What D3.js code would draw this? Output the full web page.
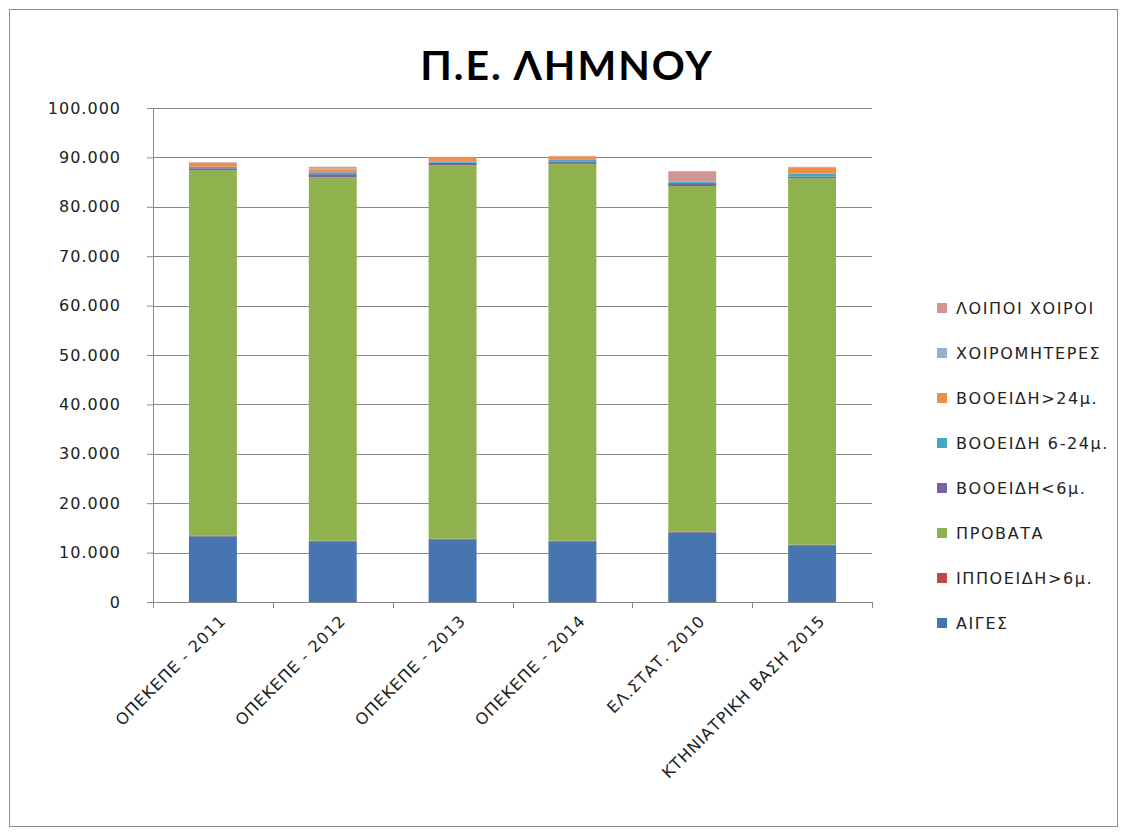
<!DOCTYPE html>
<html>
<head>
<meta charset="utf-8">
<script src="https://cdn.jsdelivr.net/npm/d3@7"></script>
<style>
  body { margin: 0; background: #fff; }
  svg { font-family: "DejaVu Sans", sans-serif; }
</style>
</head>
<body>
<div id="chart"></div>
<script>
// categories (x axis)
var categories = ["ΟΠΕΚΕΠΕ - 2011", "ΟΠΕΚΕΠΕ - 2012", "ΟΠΕΚΕΠΕ - 2013", "ΟΠΕΚΕΠΕ - 2014", "ΕΛ.ΣΤΑΤ. 2010", "ΚΤΗΝΙΑΤΡΙΚΗ ΒΑΣΗ 2015"];

// series, bottom to top
var seriesNames = ["ΑΙΓΕΣ", "ΙΠΠΟΕΙΔΗ>6μ.", "ΠΡΟΒΑΤΑ", "ΒΟΟΕΙΔΗ<6μ.", "ΒΟΟΕΙΔΗ 6-24μ.", "ΒΟΟΕΙΔΗ>24μ.", "ΧΟΙΡΟΜΗΤΕΡΕΣ", "ΛΟΙΠΟΙ ΧΟΙΡΟΙ"];
var seriesColors = ["#4775b0", "#be4b48", "#90b24e", "#7b62a0", "#47a7c2", "#ee8e48", "#93afd6", "#d19594"];

var aiges      = [13300, 12300, 12700, 12300, 14100, 11500];
var ippoeidi   = [100, 100, 100, 100, 100, 100];
var provata    = [74000, 73600, 75600, 76300, 70000, 74200];
var vooeidiLt6 = [400, 600, 500, 400, 600, 300];
var vooeidi624 = [300, 400, 300, 400, 200, 600];
var vooeidiGt24 = [800, 500, 700, 700, 0, 1300];
var xoiromiteres = [50, 200, 0, 0, 200, 0];
var loipoiXoiroi = [100, 400, 200, 100, 2000, 100];

var yTicks = [0, 10000, 20000, 30000, 40000, 50000, 60000, 70000, 80000, 90000, 100000];

var seriesValues = [aiges, ippoeidi, provata, vooeidiLt6, vooeidi624, vooeidiGt24, xoiromiteres, loipoiXoiroi];

var rows = categories.map(function(c, i) {
    var r = { cat: c };
    seriesNames.forEach(function(s, j) { r[s] = seriesValues[j][i]; });
    return r;
});

var W = 1128, H = 836;
var margin = { left: 153, right: 256, top: 108, bottom: 234 };
var width = W - margin.left - margin.right,
    height = H - margin.top - margin.bottom;

var svg = d3.select("#chart").append("svg")
    .attr("width", W).attr("height", H);

// outer frame
svg.append("rect")
    .attr("x", 9.5).attr("y", 9.5)
    .attr("width", 1108).attr("height", 817)
    .attr("fill", "#fff").attr("stroke", "#8c8c8c");

// title
svg.append("text")
    .attr("x", 567).attr("y", 80)
    .attr("text-anchor", "middle")
    .style("font-family", "Lato, sans-serif")
    .style("font-size", "41px").style("font-weight", "bold")
    .style("letter-spacing", "2px")
    .attr("fill", "#000")
    .text("Π.Ε. ΛΗΜΝΟΥ");

var g = svg.append("g").attr("transform", "translate(" + margin.left + "," + margin.top + ")");

var x = d3.scaleBand().domain(categories).range([0, width]).paddingInner(0.6).paddingOuter(0.3);
var y = d3.scaleLinear().domain([0, 100000]).range([height, 0]);

// grid
g.selectAll(".grid").data(yTicks.slice(1)).enter().append("line")
    .attr("x1", 0).attr("x2", width)
    .attr("y1", function(d) { return Math.round(y(d)) + 0.5; })
    .attr("y2", function(d) { return Math.round(y(d)) + 0.5; })
    .attr("stroke", "#8a8a8a").attr("stroke-width", 1);

// y axis
var fmt = function(d) { return d3.format(",")(d).replace(/,/g, "."); };
var yAxis = g.append("g").call(d3.axisLeft(y).tickValues(yTicks).tickFormat(fmt).tickSize(6).tickPadding(26));
yAxis.select(".domain").attr("stroke", "#8a8a8a");
yAxis.selectAll(".tick line").attr("stroke", "#8a8a8a");
yAxis.selectAll("text")
    .style("font-size", "16px").style("letter-spacing", "1px")
    .style("font-family", "DejaVu Sans, sans-serif")
    .attr("fill", "#222");

// stacked bars
var stack = d3.stack().keys(seriesNames)(rows);
g.selectAll(".layer").data(stack).enter().append("g")
    .attr("fill", function(d, i) { return seriesColors[i]; })
    .selectAll("rect").data(function(d) { return d; }).enter().append("rect")
    .attr("x", function(d) { return x(d.data.cat); })
    .attr("width", x.bandwidth())
    .attr("y", function(d) { return y(d[1]); })
    .attr("height", function(d) { return y(d[0]) - y(d[1]); });

// x axis with boundary ticks
var bounds = d3.range(categories.length + 1);
var xAxis = g.append("g").attr("transform", "translate(0," + height + ")");
xAxis.append("line").attr("x1", 0).attr("x2", width).attr("y1", 0.5).attr("y2", 0.5).attr("stroke", "#8a8a8a");
xAxis.selectAll(".bt").data(bounds).enter().append("line")
    .attr("x1", function(d) { return Math.round(d * width / categories.length) + 0.5; })
    .attr("x2", function(d) { return Math.round(d * width / categories.length) + 0.5; })
    .attr("y1", 0).attr("y2", 6).attr("stroke", "#8a8a8a");
xAxis.selectAll(".lbl").data(categories).enter().append("text")
    .attr("transform", function(d) {
        return "translate(" + (x(d) + x.bandwidth() / 2 + 10) + ",16) rotate(-45)";
    })
    .attr("text-anchor", "end")
    .attr("dy", "0.35em")
    .style("font-size", "16px").style("letter-spacing", "1px")
    .attr("fill", "#222")
    .text(function(d) { return d; });

// legend (top = last series)
var legendItems = seriesNames.slice().reverse();
var legend = svg.append("g").attr("transform", "translate(937,308)");
var li = legend.selectAll(".li").data(legendItems).enter().append("g")
    .attr("transform", function(d, i) { return "translate(0," + (i * 45) + ")"; });
li.append("rect").attr("x", 0).attr("y", -5).attr("width", 10).attr("height", 10)
    .attr("fill", function(d) { return seriesColors[seriesNames.indexOf(d)]; });
li.append("text").attr("x", 19).attr("y", 0).attr("dy", "0.35em")
    .style("font-size", "16px").style("letter-spacing", "1.6px")
    .attr("fill", "#222")
    .text(function(d) { return d; });
</script>
</body>
</html>
